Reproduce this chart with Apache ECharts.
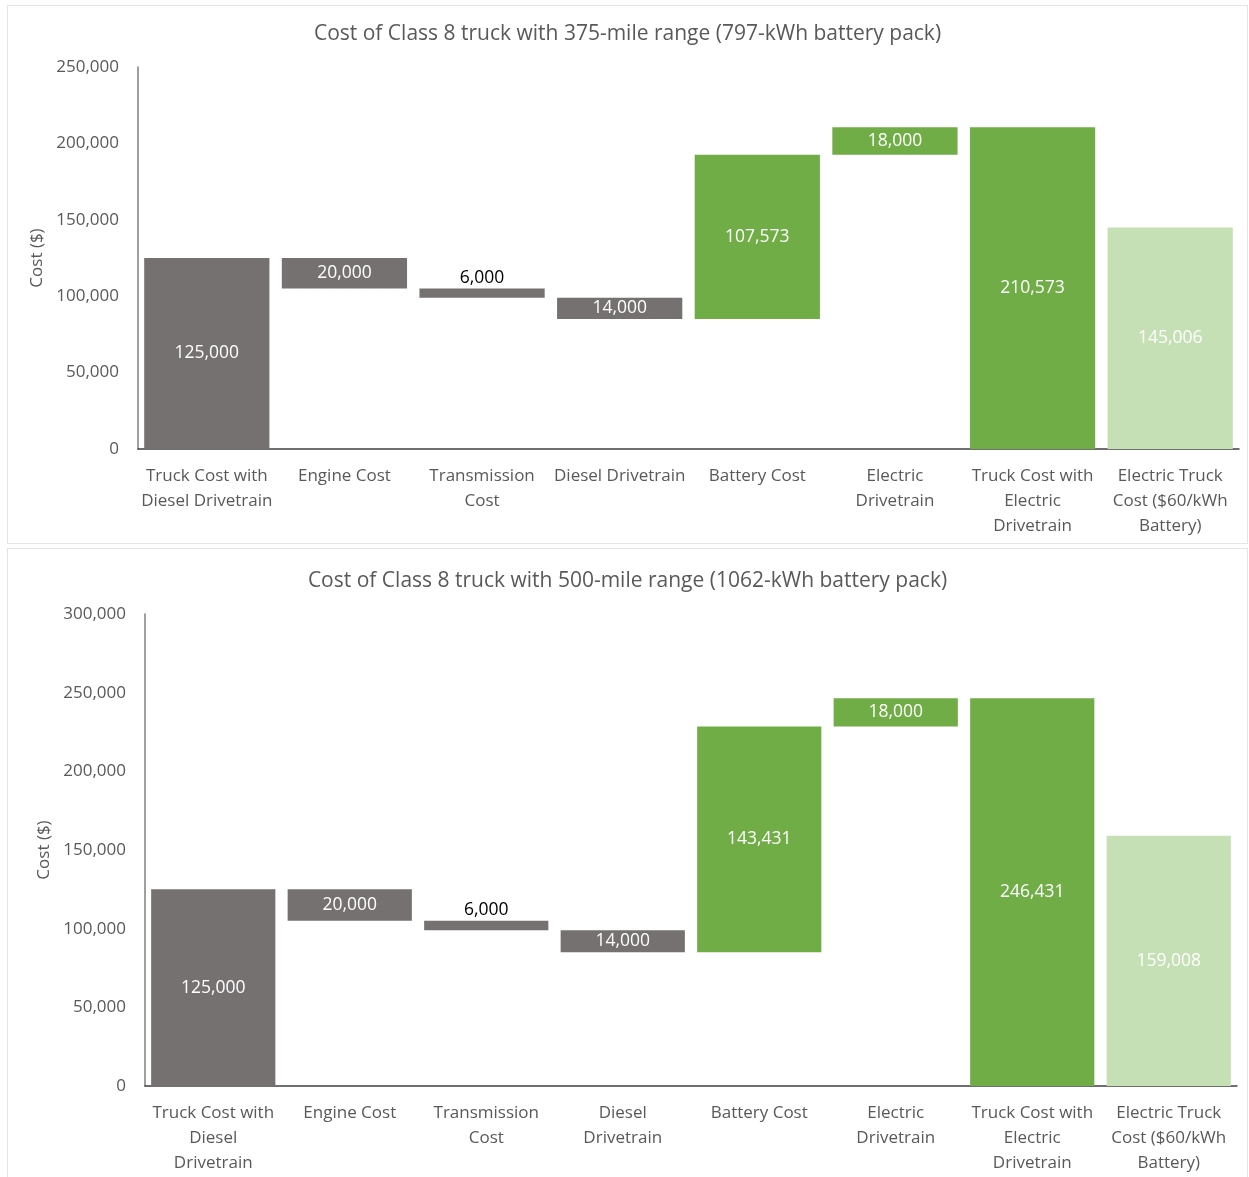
<!DOCTYPE html>
<html><head><meta charset="utf-8">
<script src="https://cdn.jsdelivr.net/npm/echarts@6/dist/echarts.min.js"></script>
<style>
html,body{margin:0;padding:0;background:#fff;width:1249px;height:1177px;overflow:hidden;}
.panel{position:absolute;border:1px solid #e4e4e4;box-sizing:border-box;}
#c1{left:7px;top:5px;width:1241px;height:539px;}
#c2{left:7px;top:548px;width:1241px;height:640px;}
</style></head><body>
<div id="c1" class="panel"></div>
<div id="c2" class="panel"></div>
<script>
// ---- data ----
const title1 = 'Cost of Class 8 truck with 375-mile range (797-kWh battery pack)';
const title2 = 'Cost of Class 8 truck with 500-mile range (1062-kWh battery pack)';
const categories1 = ['Truck Cost with\nDiesel Drivetrain','Engine Cost','Transmission\nCost','Diesel Drivetrain','Battery Cost','Electric\nDrivetrain','Truck Cost with\nElectric\nDrivetrain','Electric Truck\nCost ($60/kWh\nBattery)'];
const categories2 = ['Truck Cost with\nDiesel\nDrivetrain','Engine Cost','Transmission\nCost','Diesel\nDrivetrain','Battery Cost','Electric\nDrivetrain','Truck Cost with\nElectric\nDrivetrain','Electric Truck\nCost ($60/kWh\nBattery)'];
const values1 = [125000, 20000, 6000, 14000, 107573, 18000, 210573, 145006];
const values2 = [125000, 20000, 6000, 14000, 143431, 18000, 246431, 159008];
// step kinds: total / decrease / increase
const kinds = ['total','decrease','decrease','decrease','increase','increase','total','total'];
const yTicks1 = [0, 250000, 50000];
const yTicks2 = [0, 300000, 50000];
const yAxisName = 'Cost ($)';

const colors = ['#767171','#767171','#767171','#767171','#70AD47','#70AD47','#70AD47','#C5E0B4'];
const FONT = 'Open Sans';

function waterfall(values){
  let running = 0; const base = [];
  values.forEach((v,i)=>{
    const k = kinds[i];
    if(k==='total'){ base.push(0); running = v; }
    else if(k==='decrease'){ running -= v; base.push(running); }
    else { base.push(running); running += v; }
  });
  return base;
}

function build(el, title, cats, values, ticks, grid, titleTop){
  const base = waterfall(values);
  const chart = echarts.init(document.getElementById(el), null, {renderer:'canvas'});
  chart.setOption({
    animation:false,
    textStyle:{fontFamily:FONT},
    title:{text:title,left:'center',top:titleTop,textStyle:{fontFamily:FONT,fontSize:21,fontWeight:'normal',color:'#595959'}},
    grid:grid,
    xAxis:{type:'category',data:cats,
      axisLine:{lineStyle:{color:'#404040',width:1.5}},axisTick:{show:false},
      axisLabel:{interval:0,color:'#595959',fontSize:17,fontFamily:FONT,lineHeight:25,margin:15}},
    yAxis:{type:'value',min:ticks[0],max:ticks[1],interval:ticks[2],
      name:yAxisName,nameLocation:'middle',nameGap:92,nameTextStyle:{color:'#595959',fontSize:17,fontFamily:FONT},
      axisLine:{show:true,lineStyle:{color:'#7f7f7f',width:1.5}},axisTick:{show:false},splitLine:{show:false},
      axisLabel:{color:'#595959',fontSize:17,fontFamily:FONT,margin:19,formatter:v=>v.toLocaleString('en-US')}},
    series:[
      {type:'bar',stack:'w',barCategoryGap:'9%',silent:true,itemStyle:{color:'transparent'},data:base},
      {type:'bar',stack:'w',barCategoryGap:'9%',
        data:values.map((v,i)=>{
          const small = v < 10000;
          return {value:v,itemStyle:{color:colors[i]},
            label:{show:true,position:small?'top':'inside',distance:2,color:small?'#000':'#fff',fontSize:17.5,fontFamily:FONT,
              formatter:p=>p.value.toLocaleString('en-US')}};
        })}
    ]
  });
}

build('c1', title1, categories1, values1, yTicks1, {left:130,right:8,top:61,bottom:94}, 13);
build('c2', title2, categories2, values2, yTicks2, {left:137,right:10,top:65,bottom:101}, 17);
</script>
</body></html>
